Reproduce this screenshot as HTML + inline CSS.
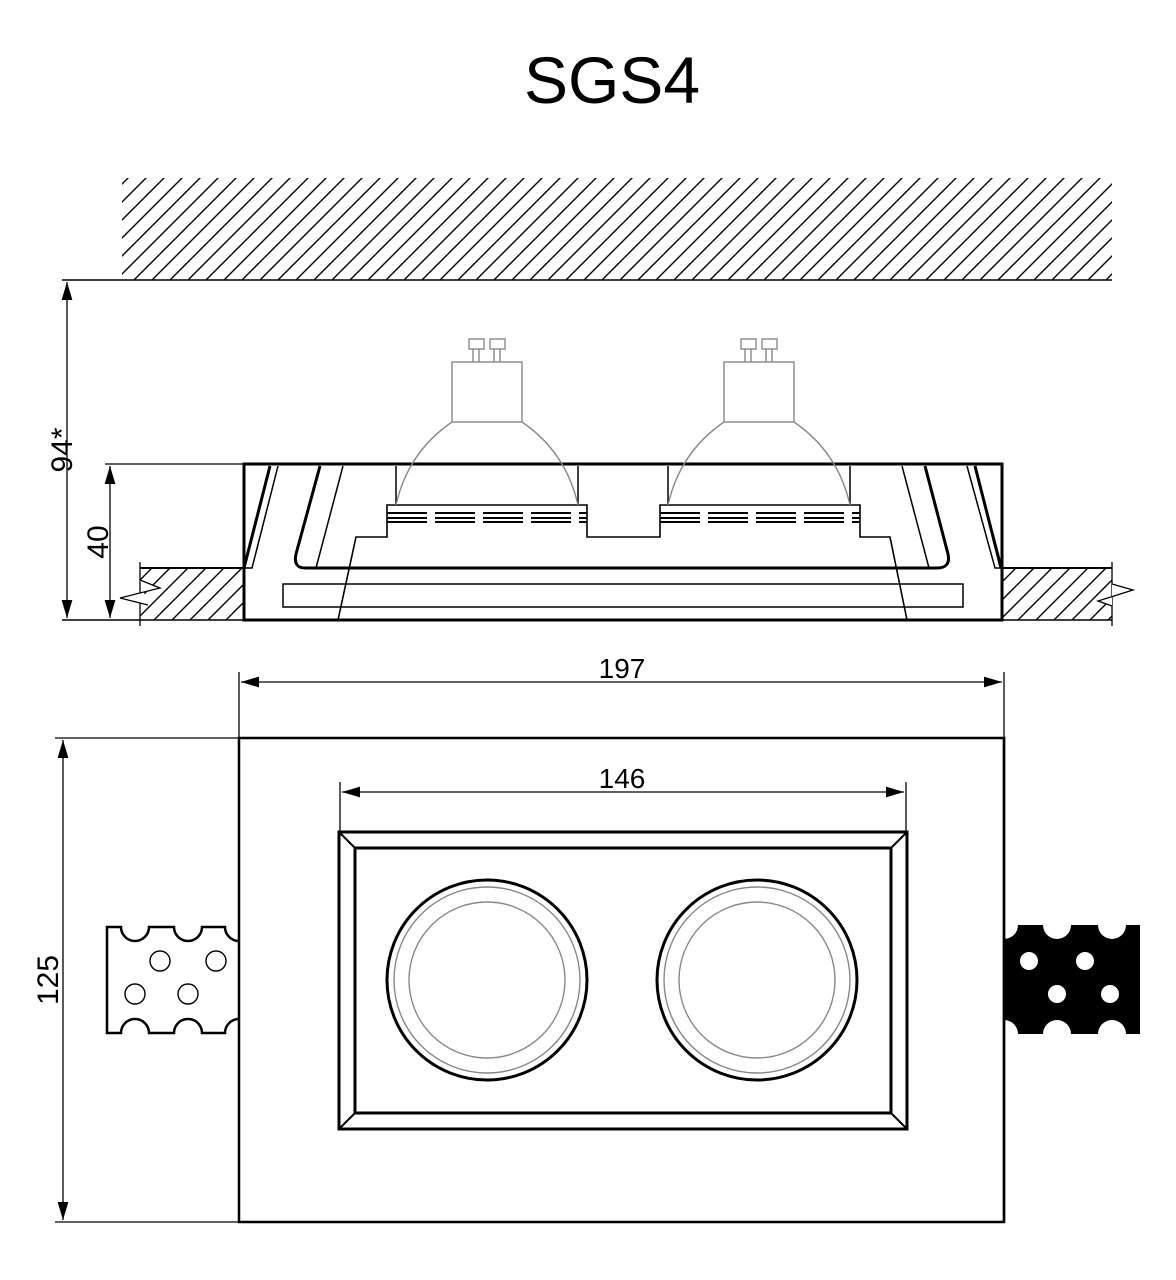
<!DOCTYPE html>
<html><head><meta charset="utf-8"><style>html,body{margin:0;padding:0;background:#fff}svg{display:block}</style></head>
<body>
<svg width="1176" height="1280" viewBox="0 0 1176 1280" xmlns="http://www.w3.org/2000/svg" font-family="Liberation Sans, Arial, sans-serif">
<defs>
<pattern id="h" width="18" height="18" patternUnits="userSpaceOnUse">
<path d="M0,18 L18,0 M-9,9 L9,-9 M9,27 L27,9" stroke="#000" stroke-width="1.4"/>
</pattern>
<marker id="a" viewBox="0 0 10 10" refX="10" refY="5" markerWidth="18" markerHeight="18" markerUnits="userSpaceOnUse" orient="auto-start-reverse">
<path d="M0,2 L10,5 L0,8 Z" fill="#000"/>
</marker>
</defs>
<rect width="1176" height="1280" fill="#fff"/>
<text x="612" y="103" font-size="66" text-anchor="middle">SGS4</text>

<rect x="122" y="178" width="990" height="102" fill="url(#h)"/>
<line x1="62" y1="280" x2="1112" y2="280" stroke="#000" stroke-width="1.5"/>
<line x1="62" y1="620" x2="1112" y2="620" stroke="#000" stroke-width="1.5"/>

<line x1="67" y1="282" x2="67" y2="618" stroke="#000" stroke-width="1.3" marker-start="url(#a)" marker-end="url(#a)"/>
<text transform="translate(72,450) rotate(-90)" font-size="30" text-anchor="middle">94*</text>
<line x1="105" y1="464" x2="245" y2="464" stroke="#000" stroke-width="1.3"/>
<line x1="110" y1="466" x2="110" y2="618" stroke="#000" stroke-width="1.3" marker-start="url(#a)" marker-end="url(#a)"/>
<text transform="translate(108,542) rotate(-90)" font-size="30" text-anchor="middle">40</text>

<rect x="140" y="568" width="104" height="52" fill="url(#h)"/>
<rect x="1002" y="568" width="110" height="52" fill="url(#h)"/>
<line x1="140" y1="568" x2="244" y2="568" stroke="#000" stroke-width="2"/>
<line x1="1002" y1="568" x2="1112" y2="568" stroke="#000" stroke-width="2"/>
<line x1="140" y1="562" x2="140" y2="626" stroke="#000" stroke-width="1.3"/>
<line x1="1112" y1="562" x2="1112" y2="626" stroke="#000" stroke-width="1.3"/>
<path d="M140,580 L160,588 L120,598 L148,605" fill="#fff" stroke="#000" stroke-width="1.3"/>
<path d="M1112,584 L1133,590 L1098,601 L1112,606" fill="#fff" stroke="#000" stroke-width="1.3"/>

<rect x="244" y="464" width="758" height="156" fill="none" stroke="#000" stroke-width="3"/>
<g fill="none" stroke="#000">
<path d="M270,466 L244,568 L252,568 L278,466" stroke-width="1.5"/>
<line x1="270" y1="466" x2="244" y2="568" stroke-width="3"/>
<path d="M975,466 L1002,568 L995,568 L967,466" stroke-width="1.5"/>
<line x1="975" y1="466" x2="1001" y2="568" stroke-width="3"/>
<path d="M320,466 L296,554 Q293,568 305,568 L937,568 Q951,568 948,554 L925,466" stroke-width="3"/>
<line x1="343" y1="466" x2="316" y2="568" stroke-width="1.5"/>
<line x1="902" y1="466" x2="929" y2="568" stroke-width="1.5"/>
<path d="M338,620 L356,537 L387,537 L387,505 L587,505 L587,537 L660,537 L660,505 L860,505 L860,537 L890,537 L907,620" stroke-width="1.6"/>
<rect x="283" y="584" width="680" height="23" stroke-width="1.5"/>
<line x1="396" y1="466" x2="396" y2="505" stroke-width="1.5"/>
<line x1="578" y1="466" x2="578" y2="505" stroke-width="1.5"/>
<line x1="668" y1="466" x2="668" y2="505" stroke-width="1.5"/>
<line x1="850" y1="466" x2="850" y2="505" stroke-width="1.5"/>
<g stroke-width="2" stroke-dasharray="40,8">
<line x1="387" y1="513" x2="587" y2="513"/><line x1="387" y1="518" x2="587" y2="518"/><line x1="387" y1="522" x2="587" y2="522"/>
<line x1="660" y1="513" x2="860" y2="513"/><line x1="660" y1="518" x2="860" y2="518"/><line x1="660" y1="522" x2="860" y2="522"/>
</g>
</g>
<g fill="none" stroke="#888" stroke-width="1.4">
<g id="b">
<rect x="452" y="362" width="70" height="60"/>
<rect x="469" y="339" width="15" height="10"/><rect x="490" y="339" width="15" height="10"/>
<path d="M473,349 V362 M479,349 V362 M494,349 V362 M500,349 V362"/>
<path d="M452,422 Q408,452 396,505 M522,422 Q566,452 578,505"/>
</g>
<use href="#b" x="272"/>
</g>

<g stroke="#000" fill="none">
<line x1="239" y1="672" x2="239" y2="738" stroke-width="1.3"/>
<line x1="1004" y1="672" x2="1004" y2="738" stroke-width="1.3"/>
<line x1="241" y1="682" x2="1002" y2="682" stroke-width="1.3" marker-start="url(#a)" marker-end="url(#a)"/>
<line x1="55" y1="738" x2="239" y2="738" stroke-width="1.3"/>
<line x1="55" y1="1222" x2="239" y2="1222" stroke-width="1.3"/>
<line x1="63" y1="740" x2="63" y2="1220" stroke-width="1.3" marker-start="url(#a)" marker-end="url(#a)"/>
<line x1="340" y1="782" x2="340" y2="832" stroke-width="1.3"/>
<line x1="906" y1="782" x2="906" y2="832" stroke-width="1.3"/>
<line x1="342" y1="792" x2="904" y2="792" stroke-width="1.3" marker-start="url(#a)" marker-end="url(#a)"/>
<rect x="239" y="738" width="765" height="484" stroke-width="2.5"/>
<rect x="339" y="832" width="568" height="297" stroke-width="3"/>
<rect x="355" y="848" width="536" height="265" stroke-width="3"/>
<path d="M339,832 L355,848 M907,832 L891,848 M339,1129 L355,1113 M907,1129 L891,1113" stroke-width="2"/>
<circle cx="487" cy="980" r="100" stroke-width="3"/>
<circle cx="487" cy="980" r="93" stroke="#888" stroke-width="1.4"/>
<circle cx="487" cy="980" r="78" stroke="#888" stroke-width="1.4"/>
<circle cx="757" cy="980" r="100" stroke-width="3"/>
<circle cx="757" cy="980" r="93" stroke="#888" stroke-width="1.4"/>
<circle cx="757" cy="980" r="78" stroke="#888" stroke-width="1.4"/>
<path d="M239,941 A14,14 0 0 1 225,927 L202,927 A14,14 0 0 1 174,927 L149,927 A14,14 0 0 1 121,927 L107,927 L107,1033 L121,1033 A14,14 0 0 1 149,1033 L174,1033 A14,14 0 0 1 202,1033 L225,1033 A14,14 0 0 1 239,1019" stroke-width="2.5"/>
<circle cx="160" cy="961" r="10" stroke-width="1.4"/><circle cx="216" cy="961" r="10" stroke-width="1.4"/>
<circle cx="135" cy="994" r="10" stroke-width="1.4"/><circle cx="188" cy="994" r="10" stroke-width="1.4"/>
</g>
<text x="622" y="678" font-size="28" text-anchor="middle">197</text>
<text x="622" y="788" font-size="28" text-anchor="middle">146</text>
<text transform="translate(58,980) rotate(-90)" font-size="30" text-anchor="middle">125</text>
<path d="M1004,925 L1043,925 A14,14 0 0 0 1071,925 L1098,925 A14,14 0 0 0 1126,925 L1140,925 L1140,1034 L1126,1034 A14,14 0 0 0 1098,1034 L1071,1034 A14,14 0 0 0 1043,1034 L1018,1034 A14,14 0 0 0 1004,1020 L1004,939 A14,14 0 0 0 1018,925 Z" fill="#000"/>
<g fill="#fff"><circle cx="1029" cy="961" r="9"/><circle cx="1085" cy="961" r="9"/><circle cx="1057" cy="994" r="9"/><circle cx="1110" cy="994" r="9"/></g>
<line x1="1004" y1="738" x2="1004" y2="1222" stroke="#000" stroke-width="2.5"/>
</svg>
</body></html>
